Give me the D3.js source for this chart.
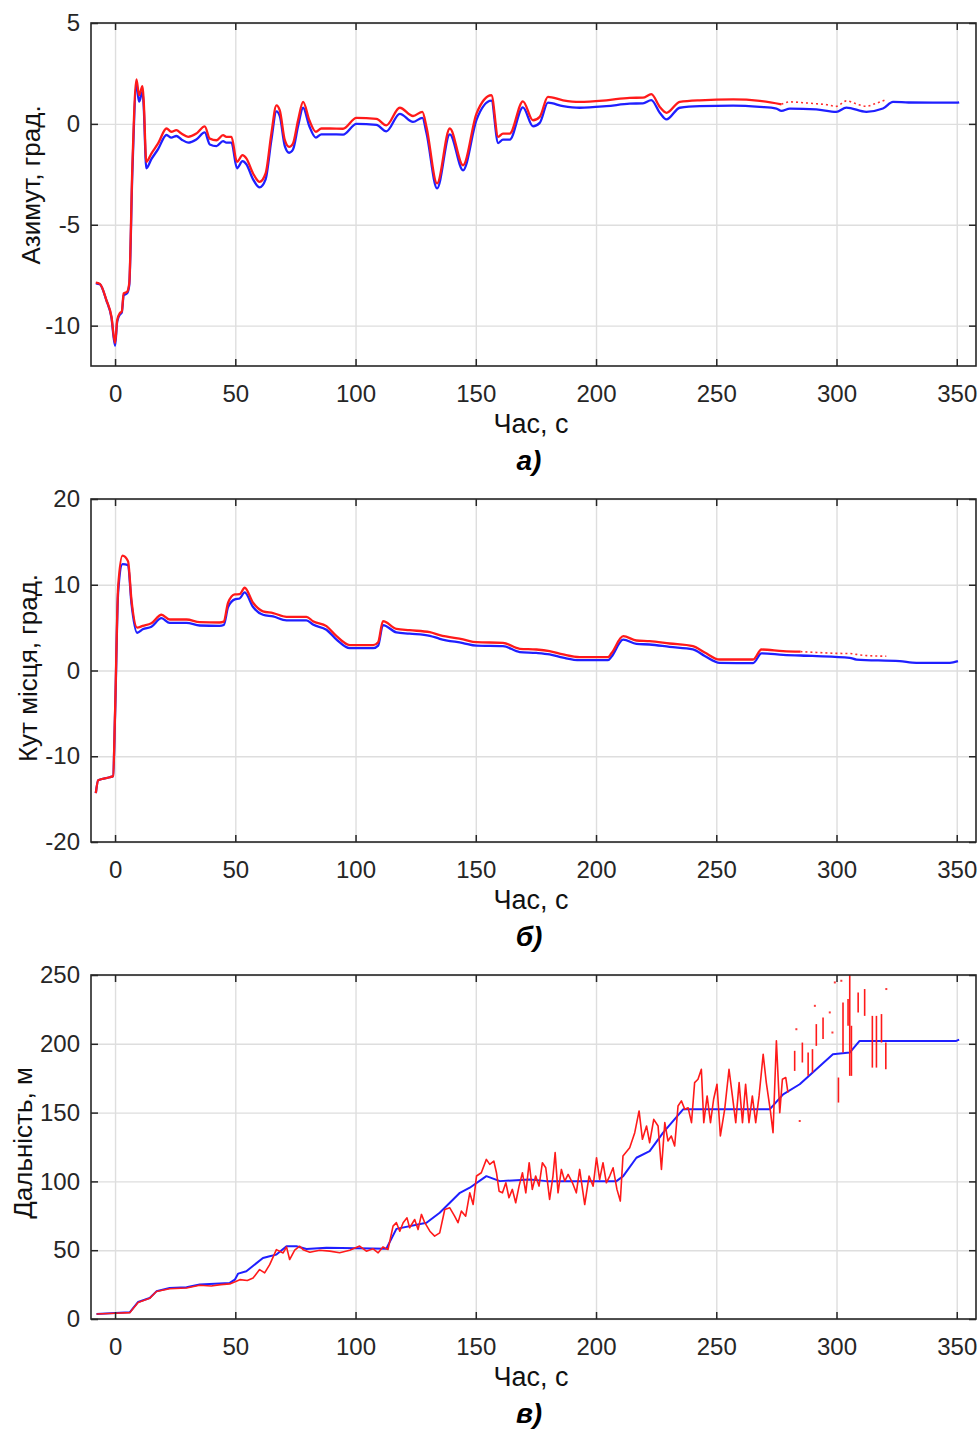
<!DOCTYPE html>
<html lang="uk">
<head>
  <meta charset="utf-8">
  <style>
    html, body {
      margin: 0;
      padding: 0;
      background: #fff;
      width: 980px;
      height: 1429px;
      overflow: hidden;
    }
    svg { display: block; }
    .tick text { font-family: "Liberation Sans", Arial, sans-serif; fill: #262626; }
    .grid line { stroke: #dedede; stroke-width: 1.4; }
    .grid path { display: none; }
    .frame line { stroke: #262626; stroke-width: 1.5; }
    .frame path { display: none; }
  </style>
</head>
<body>
<svg width="980" height="1429"></svg>

<script src="https://d3js.org/d3.v7.min.js"></script>
<script>
// ---- дані, зчитані з графіків ----
const timeTicks = [0, 50, 100, 150, 200, 250, 300, 350];
const azimuthTicks = [-10, -5, 0, 5];
const elevationTicks = [-20, -10, 0, 10, 20];
const rangeTicks = [0, 50, 100, 150, 200, 250];

// а) азимут, град.
const azimuthRed = [[-8,-7.87],[-6.3,-7.93],[-3.6,-8.73],[-1.5,-9.55],[0,-10.87],[0.9,-9.72],[2,-9.38],[2.8,-9.3],[3.6,-8.4],[5,-8.32],[5.9,-7.9],[7.2,-2.1],[8.9,2.2],[10,1.42],[11.4,1.87],[11.9,1.17],[13,-1.88],[15.1,-1.47],[17.9,-0.97],[21.4,-0.23],[23.4,-0.39],[25.5,-0.31],[27.6,-0.48],[30.4,-0.64],[33.8,-0.48],[37.3,-0.12],[39.4,-0.73],[42.2,-0.81],[44.9,-0.56],[46.3,-0.64],[48.4,-0.64],[50.7,-1.88],[53,-1.55],[54.6,-1.71],[57.4,-2.46],[60.1,-2.87],[62.6,-2.46],[65,-0.48],[67.1,0.92],[68.5,0.67],[70.6,-0.81],[72.4,-1.14],[74,-0.97],[76.1,0.18],[78.2,1.09],[80.8,0.18],[83.5,-0.39],[85.8,-0.23],[89.3,-0.23],[94.8,-0.24],[100.4,0.3],[108.7,0.25],[112.8,-0.07],[118.4,0.8],[123.9,0.39],[127.8,0.6],[129.5,-0.15],[133.9,-2.95],[139.2,-0.23],[144.7,-2.05],[150.3,0.51],[156.5,1.42],[159.3,-0.64],[161.3,-0.48],[164.1,-0.48],[169.6,1.12],[173.8,0.18],[176.6,0.35],[180,1.34],[186.3,1.17],[193.2,1.09],[204.3,1.17],[214,1.29],[219.5,1.3],[223,1.47],[226.5,0.84],[229.3,0.55],[234.8,1.09],[243.1,1.17],[257,1.21],[268.1,1.14],[277.1,0.97]];
const azimuthRedSparse = [[277.1,0.97],[280.6,1.09],[286,1.05],[291.6,1.0],[296,0.95],[299.9,0.87],[304.1,1.14],[308,1.0],[312.4,0.87],[316,1.0],[320.7,1.21]];
const azimuthBlue = [[-8,-7.9],[-6.3,-7.95],[-3.6,-8.75],[-1.5,-9.6],[0,-11.0],[0.9,-9.8],[2,-9.45],[2.8,-9.35],[3.6,-8.5],[5,-8.4],[5.9,-8.0],[7.2,-2.4],[8.9,1.9],[10,1.1],[11.4,1.6],[11.9,0.9],[13,-2.2],[15.1,-1.75],[17.9,-1.25],[21.4,-0.55],[23.4,-0.68],[25.5,-0.6],[27.6,-0.77],[30.4,-0.93],[33.8,-0.77],[37.3,-0.42],[39.4,-1.02],[42.2,-1.1],[44.9,-0.85],[46.3,-0.93],[48.4,-0.93],[50.7,-2.2],[53,-1.85],[54.6,-2.0],[57.4,-2.75],[60.1,-3.15],[62.6,-2.75],[65,-0.8],[67.1,0.62],[68.5,0.38],[70.6,-1.1],[72.4,-1.43],[74,-1.27],[76.1,-0.12],[78.2,0.8],[80.8,-0.12],[83.5,-0.68],[85.8,-0.52],[89.3,-0.52],[94.8,-0.53],[100.4,0.0],[108.7,-0.05],[112.8,-0.37],[118.4,0.5],[123.9,0.1],[127.8,0.3],[129.5,-0.45],[133.9,-3.2],[139.2,-0.52],[144.7,-2.3],[150.3,0.2],[156.5,1.15],[159.3,-0.95],[161.3,-0.78],[164.1,-0.78],[169.6,0.82],[173.8,-0.12],[176.6,0.05],[180,1.05],[186.3,0.88],[193.2,0.8],[204.3,0.88],[214,1.0],[219.5,1.02],[223,1.18],[226.5,0.55],[229.3,0.22],[234.8,0.8],[243.1,0.88],[257,0.9],[268.1,0.84],[275,0.76],[277.1,0.64],[280.6,0.76],[291.6,0.72],[299.9,0.6],[304.1,0.81],[312.4,0.6],[319.3,0.76],[323.5,1.09],[330,1.06],[340,1.05],[349.8,1.05],[351,1.07]];

// б) кут місця, град.
const elevationRed = [[-8,-14.3],[-7,-12.8],[-2.2,-12.45],[-0.8,-12.3],[0,-4.9],[1.3,9.8],[3.1,13.4],[5.4,12.75],[6.8,8.3],[9.2,5.0],[11.5,5.2],[15.1,5.5],[19.3,6.5],[22.7,5.95],[29.7,5.95],[35.2,5.65],[43.5,5.6],[45.2,5.7],[47,7.9],[49.8,8.87],[51.8,8.9],[53.9,9.65],[57.4,7.9],[61.5,6.9],[65.7,6.7],[71.3,6.26],[79.6,6.26],[82.3,5.75],[87.9,5.17],[92.1,4.0],[97.6,2.96],[107.3,2.96],[109.4,3.3],[111.4,5.76],[117,4.86],[122.5,4.7],[130.9,4.47],[135,4.12],[144.7,3.62],[150.3,3.3],[161.3,3.23],[168.3,2.53],[175.2,2.45],[180.7,2.26],[186.3,1.87],[193.2,1.56],[205,1.56],[206.4,2.0],[211.3,4.0],[216.8,3.5],[222.3,3.42],[230.6,3.15],[240.3,2.84],[245.2,2.1],[251.4,1.28],[265.3,1.28],[268.8,2.45],[277.8,2.26],[285,2.2]];
const elevationRedSparse = [[285,2.2],[292,2.1],[300,2.0],[305.5,1.98],[310,1.8],[315,1.7],[320.7,1.67]];
const elevationBlue = [[-8,-14.3],[-7,-12.8],[-2.2,-12.45],[-0.8,-12.3],[0,-5.2],[1.3,9.2],[3.1,12.4],[5.4,12.3],[6.8,7.9],[9.2,4.4],[11.5,4.8],[15.1,5.1],[19.3,6.1],[22.7,5.55],[29.7,5.55],[35.2,5.25],[43.5,5.2],[45.2,5.3],[47,7.4],[49.8,8.3],[51.8,8.4],[53.9,9.1],[57.4,7.4],[61.5,6.5],[65.7,6.3],[71.3,5.85],[79.6,5.85],[82.3,5.35],[87.9,4.75],[92.1,3.6],[97.6,2.6],[107.3,2.6],[109.4,2.9],[111.4,5.3],[117,4.45],[122.5,4.3],[130.9,4.05],[135,3.7],[144.7,3.2],[150.3,2.9],[161.3,2.85],[168.3,2.15],[175.2,2.05],[180.7,1.88],[186.3,1.5],[193.2,1.2],[205,1.2],[206.4,1.6],[211.3,3.6],[216.8,3.1],[222.3,3.03],[230.6,2.75],[240.3,2.45],[245.2,1.7],[251.4,0.9],[265.3,0.86],[268.8,2.0],[277.8,1.83],[290,1.7],[305.5,1.48],[308.3,1.28],[326.3,1.09],[333.2,0.9],[347.1,0.9],[350.5,1.09]];

// в) дальність, м
const rangeBlue = [[-7.7,3.6],[0,4.4],[6.1,4.85],[9.6,12.4],[14.4,15.3],[17.2,20.1],[22.7,22.5],[29.7,23],[35.2,25],[47.7,26.2],[49.8,28.6],[51.2,33],[54.6,34.7],[61.5,44.4],[64.3,45.6],[67.1,46.8],[71.3,52.9],[75.4,52.9],[79.6,50.9],[87.9,51.7],[112.8,51],[117,65.5],[129.5,69.9],[135,77.2],[143.4,91.7],[147.5,95.4],[154.4,103.8],[160,100.2],[172.4,101.4],[179.4,100.2],[208.5,100.2],[211.3,103.8],[216.8,117.2],[222.3,122],[227.9,135.4],[236.2,152.4],[272.2,152.4],[277.8,163.3],[284.7,170.6],[298.5,192.4],[305.5,193.6],[309.6,202.1],[349.8,202.1],[351,203]];
const rangeRed = [[-7.7,3.6],[0,4.2],[6.1,4.6],[9.6,12],[14.4,15],[17.2,20],[22.7,22],[29.7,22.5],[35.2,24.5],[40,24],[44,25],[47.7,25.5],[51.9,28.6],[55,28],[57.4,29.8],[60.1,35.9],[62.2,33.5],[64.3,39.5],[67.1,50.4],[69.9,48],[71.3,52.4],[72.6,43.2],[74.7,50],[76.8,52.9],[78.2,50.4],[81,48.5],[85.1,50],[89.3,49.3],[93.4,48.1],[97.6,50],[101.7,53],[104.5,49.3],[107.3,51],[109.4,48.1],[111.4,52.4],[113.5,50.5],[115.6,67.5],[117,70],[118.4,63.8],[119.8,70],[121.4,73.5],[122.5,66.3],[124.6,72.3],[126,65],[127.4,76],[128.8,70],[130.9,63.8],[132.9,60.2],[135,62.6],[137.1,79.6],[139.2,80.8],[141.2,74.7],[142.6,70],[144,78.4],[145.8,74.7],[147.5,91.7],[148.9,83.2],[150.3,103.9],[152.3,106.3],[154.4,116],[155.8,112.4],[157.5,114.8],[158.6,106.3],[159.7,92.9],[161.1,91.7],[162.5,99],[163.8,88.1],[165.2,94.2],[166.6,84.5],[168,96.6],[169.4,106.3],[170.8,91.7],[172.2,113.6],[173.5,94.2],[174.9,103.9],[176.3,96.6],[177.7,113.6],[179.1,109.9],[180.7,86.9],[182.1,103.9],[183,120.9],[184.2,91.7],[185.6,108.7],[187,100.2],[188.4,105.1],[190.2,99],[191.8,91.7],[193.2,108.7],[195.3,83.2],[197.1,103.9],[198.8,96.6],[200.2,117.2],[201.5,101.4],[202.9,113.6],[204.3,99],[205.7,103.9],[207.1,109.9],[208.7,94.2],[210.1,85.7],[211.2,118.4],[214,124.5],[216.1,135.4],[217.9,151.2],[219.3,130.6],[221,140.3],[222.3,128.1],[224,145.1],[225.8,140.3],[227.2,108.7],[228.6,142.7],[229.9,129.4],[231.3,133],[232.7,125.7],[234.1,154.8],[235.5,158.5],[236.9,152.4],[238.3,153.5],[239.7,142.7],[241,171.8],[242.4,174.2],[243.8,181.5],[244.8,142.7],[246.2,162.1],[247.6,142.7],[248.9,159.7],[250.3,170.6],[251.7,133],[253.5,152.4],[255.3,181.5],[256.7,162.1],[258.1,142.7],[259.5,171.8],[260.9,142.7],[262.2,170.6],[263.6,142.7],[265,162.1],[266.4,142.7],[267.8,162.1],[269.5,192.4],[270.8,171.8],[272.5,151.2],[273.6,135.4],[275,202.2],[276.4,150],[277.5,174.2],[278.9,175.5],[279.8,164.5]];
// вертикальні штрихи: [час, від, до]
const rangeRedBursts = [[282.6,180.3,194.9],[285.8,186.4,200.9],[288.2,176.7,193.7],[290,179.1,196.1],[291.6,198.5,214.3],[294.4,203.4,219.1],[300.8,157.3,175.5],[302.7,193.7,230],[304.8,213.1,232.5],[305.5,176.7,255],[306.2,176.7,213.1],[309,222.8,237.3],[311.7,220.3,239.8],[314.9,182.7,220.3],[316.6,182.7,220.3],[318.7,200.9,221.6],[320.5,181.5,200.9]];
const rangeRedDots = [[283.3,210.6],[284.7,143.9],[291,227.6],[297.2,222.8],[298.3,208.2],[299.3,244.6],[302,245.8],[320.7,239.8]];

// ---- розмітка ----
const svg = d3.select("svg");
const left = 91, right = 976;
const x = d3.scaleLinear().domain([-10, 358]).range([left, right]);
const fmt = d => String(d); // звичайний дефіс, як у оригіналі

const panels = [
  { top: 23, bottom: 366, domain: [-12, 5], ticks: azimuthTicks, label: "Азимут, град.", labelX: 40, labelY: 185, letter: "а)",
    blue: [azimuthBlue], red: [azimuthRed], redSparse: [azimuthRedSparse], smooth: true },
  { top: 499, bottom: 842, domain: [-20, 20], ticks: elevationTicks, label: "Кут місця, град.", labelX: 37, labelY: 668, letter: "б)",
    blue: [elevationBlue], red: [elevationRed], redSparse: [elevationRedSparse], smooth: true },
  { top: 975, bottom: 1319, domain: [0, 250], ticks: rangeTicks, label: "Дальність, м", labelX: 32, labelY: 1143, letter: "в)",
    blue: [rangeBlue], red: [rangeRed], redSparse: [], bursts: rangeRedBursts, dots: rangeRedDots, smooth: false }
];

panels.forEach((p, i) => {
  const y = d3.scaleLinear().domain(p.domain).range([p.bottom, p.top]);
  const h = p.bottom - p.top;
  const g = svg.append("g");

  // сітка
  g.append("g").attr("class", "grid")
    .attr("transform", `translate(0,${p.bottom})`)
    .call(d3.axisBottom(x).tickValues(timeTicks).tickSize(-h).tickFormat(""));
  g.append("g").attr("class", "grid")
    .attr("transform", `translate(${left},0)`)
    .call(d3.axisLeft(y).tickValues(p.ticks).tickSize(-(right - left)).tickFormat(""));

  // лінії
  const clipId = "clip" + i;
  svg.append("clipPath").attr("id", clipId)
    .append("rect").attr("x", left).attr("y", p.top).attr("width", right - left).attr("height", h);
  const plot = g.append("g").attr("clip-path", `url(#${clipId})`);
  const line = d3.line().x(d => x(d[0])).y(d => y(d[1]))
    .curve(p.smooth ? d3.curveMonotoneX : d3.curveLinear);

  plot.selectAll(".blue").data(p.blue).join("path")
    .attr("d", line).attr("fill", "none")
    .attr("stroke", "#1f1fff").attr("stroke-width", p.smooth ? 2.3 : 2).attr("stroke-linejoin", "round");
  plot.selectAll(".red").data(p.red).join("path")
    .attr("d", line).attr("fill", "none")
    .attr("stroke", "#ff1a1a").attr("stroke-width", p.smooth ? 2.3 : 1.6).attr("stroke-linejoin", "round");
  plot.selectAll(".redSparse").data(p.redSparse).join("path")
    .attr("d", line).attr("fill", "none")
    .attr("stroke", "#ff3030").attr("stroke-width", 1.6).attr("stroke-dasharray", "2,3");
  if (p.bursts) {
    plot.selectAll(".burst").data(p.bursts).join("line")
      .attr("x1", d => x(d[0])).attr("x2", d => x(d[0]))
      .attr("y1", d => y(d[1])).attr("y2", d => y(d[2]))
      .attr("stroke", "#ff1a1a").attr("stroke-width", 1.6);
    plot.selectAll(".dot").data(p.dots).join("rect")
      .attr("x", d => x(d[0]) - 1).attr("y", d => y(d[1]) - 1)
      .attr("width", 2).attr("height", 2).attr("fill", "#ff3a3a");
  }

  // рамка і поділки
  g.append("rect").attr("x", left).attr("y", p.top).attr("width", right - left).attr("height", h)
    .attr("fill", "none").attr("stroke", "#262626").attr("stroke-width", 1.6);

  const bottomAxis = g.append("g").attr("class", "frame")
    .attr("transform", `translate(0,${p.bottom})`)
    .call(d3.axisBottom(x).tickValues(timeTicks).tickSize(-7).tickPadding(19).tickFormat(fmt));
  bottomAxis.selectAll("text").style("font-size", "24px");
  g.append("g").attr("class", "frame")
    .attr("transform", `translate(0,${p.top})`)
    .call(d3.axisTop(x).tickValues(timeTicks).tickSize(-7).tickFormat(""));
  const leftAxis = g.append("g").attr("class", "frame")
    .attr("transform", `translate(${left},0)`)
    .call(d3.axisLeft(y).tickValues(p.ticks).tickSize(-7).tickPadding(11).tickFormat(fmt));
  leftAxis.selectAll("text").style("font-size", "24px");
  g.append("g").attr("class", "frame")
    .attr("transform", `translate(${right},0)`)
    .call(d3.axisRight(y).tickValues(p.ticks).tickSize(-7).tickFormat(""));

  // підписи
  g.append("text")
    .attr("transform", `translate(${p.labelX},${p.labelY}) rotate(-90)`)
    .attr("text-anchor", "middle")
    .style("font-family", "'Liberation Sans', Arial, sans-serif")
    .style("font-size", "26px").style("fill", "#111")
    .text(p.label);
  g.append("text")
    .attr("x", 531).attr("y", p.bottom + 67)
    .attr("text-anchor", "middle")
    .style("font-family", "'Liberation Sans', Arial, sans-serif")
    .style("font-size", "27px").style("fill", "#111")
    .text("Час, с");
  g.append("text")
    .attr("x", 529).attr("y", p.bottom + 104)
    .attr("text-anchor", "middle")
    .style("font-family", "'Liberation Sans', Arial, sans-serif")
    .style("font-size", "28px").style("font-weight", "bold").style("font-style", "italic")
    .style("fill", "#000")
    .text(p.letter);
});
</script>
</body>
</html>
